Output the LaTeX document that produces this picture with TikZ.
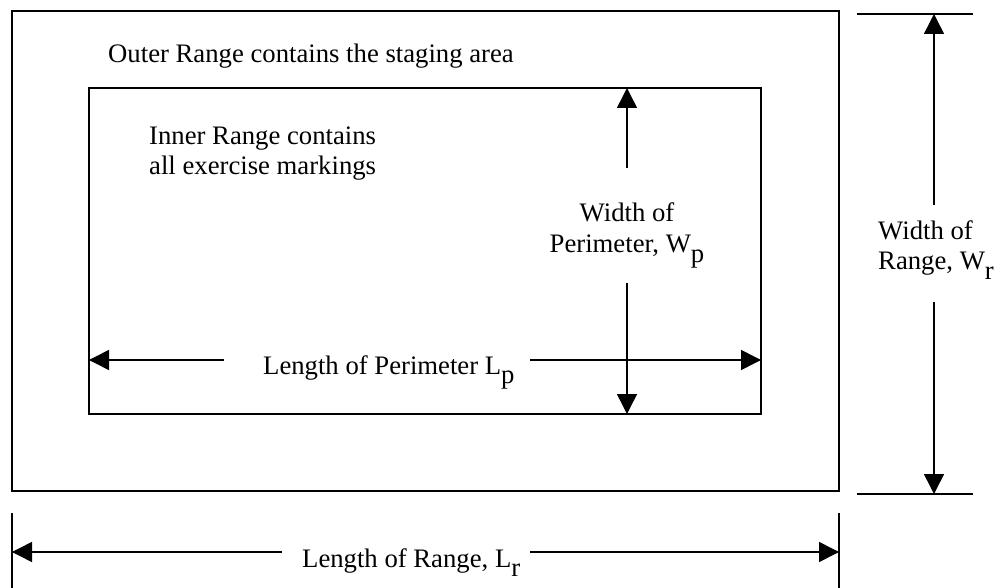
\documentclass[tikz,border=0pt]{standalone}
\usepackage{fontspec}
\setmainfont{Liberation Serif}
\usetikzlibrary{arrows.meta}
\tikzset{
  box/.style={line width=1.5pt},
  dimline/.style={line width=1.5pt},
  dimarrow/.style={line width=1.5pt,-{Triangle[length=20pt,width=20pt]}},
  lbl/.style={inner sep=0pt,font=\fontsize{26.7}{31}\selectfont},
}
\newcommand{\lowsub}[1]{\raisebox{-0.34em}{#1}}
\begin{document}
\begin{tikzpicture}[x=1pt,y=-1pt]
\useasboundingbox (0,0) rectangle (997,588);
% rectangles
\coordinate (oTL) at (12,11);
\coordinate (oBR) at (839,491);
\coordinate (iTL) at (89,88);
\coordinate (iBR) at (761,414);
\draw[box] (oTL) rectangle (oBR);
\draw[box] (iTL) rectangle (iBR);
% texts
\node[lbl,anchor=base west] (outer) at (108,63) {Outer Range contains the staging area};
\node[lbl,anchor=base west] (inner1) at (149,145) {Inner Range contains};
\node[lbl,anchor=base west] (inner2) at (149,175) {all exercise markings};
\node[lbl,anchor=base] (wp1) at (627,222) {Width of};
\node[lbl,anchor=base] (wp2) at (627,253) {Perimeter, W\lowsub{p}};
\node[lbl,anchor=base west] (wr1) at (878,240) {Width of};
\node[lbl,anchor=base west] (wr2) at (878,270) {Range, W\lowsub{r}};
\node[lbl,anchor=base west] (lp) at (263,374) {Length of Perimeter L\lowsub{p}};
\node[lbl,anchor=base west] (lr) at (302,567) {Length of Range, L\lowsub{r}};
% width of perimeter
\coordinate (wpUs) at (627,168);
\coordinate (wpUe) at (627,88);
\coordinate (wpDs) at (627,283);
\coordinate (wpDe) at (627,414);
\draw[dimarrow] (wpUs) -- (wpUe);
\draw[dimarrow] (wpDs) -- (wpDe);
% length of perimeter
\coordinate (lpLs) at (224,360);
\coordinate (lpLe) at (89,360);
\coordinate (lpRs) at (530,360);
\coordinate (lpRe) at (761,360);
\draw[dimarrow] (lpLs) -- (lpLe);
\draw[dimarrow] (lpRs) -- (lpRe);
% width of range
\coordinate (wrT1) at (857,14);
\coordinate (wrT2) at (973,14);
\coordinate (wrB1) at (857,494);
\coordinate (wrB2) at (973,494);
\draw[dimline] (wrT1) -- (wrT2);
\draw[dimline] (wrB1) -- (wrB2);
\coordinate (wrUs) at (934,205);
\coordinate (wrUe) at (934,14);
\coordinate (wrDs) at (934,302);
\coordinate (wrDe) at (934,494);
\draw[dimarrow] (wrUs) -- (wrUe);
\draw[dimarrow] (wrDs) -- (wrDe);
% length of range
\coordinate (lrL1) at (12,513);
\coordinate (lrL2) at (12,588);
\coordinate (lrR1) at (839,513);
\coordinate (lrR2) at (839,588);
\draw[dimline] (lrL1) -- (lrL2);
\draw[dimline] (lrR1) -- (lrR2);
\coordinate (lrLs) at (282,552);
\coordinate (lrLe) at (12,552);
\coordinate (lrRs) at (530,552);
\coordinate (lrRe) at (839,552);
\draw[dimarrow] (lrLs) -- (lrLe);
\draw[dimarrow] (lrRs) -- (lrRe);
\end{tikzpicture}
\end{document}
